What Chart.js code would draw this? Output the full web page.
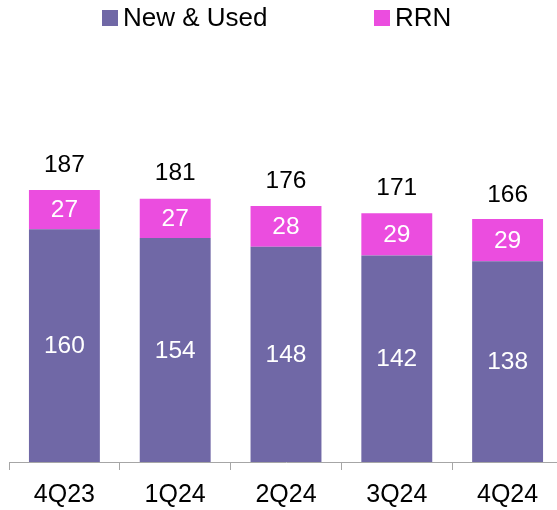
<!DOCTYPE html>
<html>
<head>
<meta charset="utf-8">
<script src="https://cdn.jsdelivr.net/npm/chart.js@4/dist/chart.umd.min.js"></script>
<style>
  html, body { margin: 0; padding: 0; background: #fff; overflow: hidden; }
  body { width: 557px; height: 510px; position: relative; font-family: "Liberation Sans", Arial, sans-serif; }
  #wrap { position: absolute; left: 0; top: 0; width: 563px; height: 520px; }
  .lg { position: absolute; top: 2px; font-size: 26px; line-height: 30px; color: #000; white-space: nowrap; }
  .lg i { display: inline-block; width: 16px; height: 16px; margin-right: 5px; vertical-align: 0px; }
</style>
</head>
<body>
<div id="wrap"><canvas id="chart"></canvas></div>
<div class="lg" id="lg0" style="left:102px"></div>
<div class="lg" id="lg1" style="left:374px"></div>
<script>
const quarters = ['4Q23', '1Q24', '2Q24', '3Q24', '4Q24'];
const newUsed = [160, 154, 148, 142, 138];
const rrn = [27, 27, 28, 29, 29];
const totals = [187, 181, 176, 171, 166];
const seriesNames = ['New & Used', 'RRN'];
const seriesColors = ['#7068A6', '#EB4DDF'];

// legend built from the series arrays
seriesNames.forEach((name, i) => {
    const el = document.getElementById('lg' + i);
    el.innerHTML = '<i style="background:' + seriesColors[i] + '"></i>' + name;
});

const valueLabels = {
    id: 'valueLabels',
    afterDatasetsDraw(chart) {
        const c = chart.ctx;
        const y = chart.scales.y;
        c.save();
        c.font = '24.5px "Liberation Sans", Arial, sans-serif';
        c.textAlign = 'center';
        c.textBaseline = 'middle';
        c.fillStyle = '#fff';
        chart.data.datasets.forEach((ds, di) => {
            chart.getDatasetMeta(di).data.forEach((bar, i) => {
                c.fillText(ds.data[i], bar.x, (bar.y + bar.base) / 2 + 1);
            });
        });
        c.fillStyle = '#000';
        const meta = chart.getDatasetMeta(0);
        totals.forEach((t, i) => {
            c.fillText(t, meta.data[i].x, y.getPixelForValue(t) - 25);
        });
        c.restore();
    }
};

new Chart(document.getElementById('chart').getContext('2d'), {
    type: 'bar',
    data: {
        labels: quarters,
        datasets: [
            { label: seriesNames[0], data: newUsed, backgroundColor: seriesColors[0] },
            { label: seriesNames[1], data: rrn, backgroundColor: seriesColors[1] }
        ]
    },
    options: {
        responsive: true,
        maintainAspectRatio: false,
        animation: false,
        categoryPercentage: 1,
        barPercentage: 0.64,
        layout: { padding: { left: 9, right: 0, top: 171, bottom: 0 } },
        scales: {
            x: {
                stacked: true,
                grid: {
                    offset: true,
                    drawOnChartArea: false,
                    drawTicks: true,
                    tickLength: 8,
                    color: '#A6A6A6'
                },
                border: { display: true, color: '#A6A6A6' },
                ticks: {
                    color: '#000',
                    padding: 10,
                    maxRotation: 0,
                    autoSkip: false,
                    font: { family: '"Liberation Sans", Arial, sans-serif', size: 25 }
                }
            },
            y: {
                stacked: true,
                display: false,
                min: 0,
                max: 200
            }
        },
        plugins: {
            legend: { display: false },
            tooltip: { enabled: false }
        }
    },
    plugins: [valueLabels]
});
</script>
</body>
</html>
